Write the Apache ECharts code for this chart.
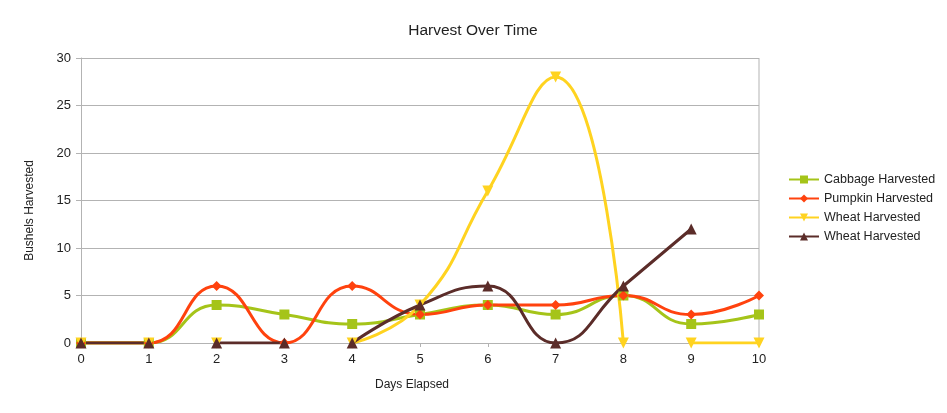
<!DOCTYPE html>
<html>
<head>
<meta charset="utf-8">
<script src="https://cdn.jsdelivr.net/npm/echarts@6/dist/echarts.min.js"></script>
<style>
  html, body { margin: 0; padding: 0; background: #fff; }
  #chart { width: 947px; height: 413px; }
</style>
</head>
<body>
<div id="chart"></div>
<script>
// days 0..10, null marks a break in the line
const cabbage = [[0, 0], [1, 0], [2, 4], [3, 3], [4, 2], [5, 3], [6, 4], [7, 3], [8, 5], [9, 2], [10, 3]];
const pumpkin = [[0, 0], [1, 0], [2, 6], [3, 0], [4, 6], [5, 3], [6, 4], [7, 4], [8, 5], [9, 3], [10, 5]];
const wheatA = [[0, 0], [1, 0], [1.5, null], [2, 0], [3, null], [4, 0], [5, 4], [6, 16], [7, 28], [8, 0], [8.5, null], [9, 0], [10, 0]];
const wheatB = [[0, 0], [1, 0], [1.5, null], [2, 0], [3, 0], [3.5, null], [4, 0], [5, 4], [6, 6], [7, 0], [8, 6], [9, 12]];

const seriesNames = ['Cabbage Harvested', 'Pumpkin Harvested', 'Wheat Harvested', 'Wheat Harvested '];
const colors = ['#a5c419', '#ff420e', '#ffd320', '#5b2c29'];

const chart = echarts.init(document.getElementById('chart'));
const font = 'Liberation Sans, Arial, sans-serif';

function mk(name, data, color, symbol, size) {
  return {
    name: name,
    type: 'line',
    data: data,
    smooth: 0.5,
    connectNulls: false,
    symbol: symbol,
    symbolSize: size,
    showAllSymbol: true,
    lineStyle: { width: 3, color: color },
    itemStyle: { color: color },
    emphasis: { disabled: true }
  };
}

const option = {
  animation: false,
  color: colors,
  title: {
    text: 'Harvest Over Time',
    left: 468, top: 18, textAlign: 'center',
    textStyle: { fontFamily: font, fontSize: 15.5, fontWeight: 'normal', color: '#222' }
  },
  legend: {
    orient: 'vertical',
    left: 783, top: 168,
    itemWidth: 30, itemHeight: 10, itemGap: 6,
    formatter: function (n) { return n.trim(); },
    textStyle: { fontFamily: font, fontSize: 12.5, color: '#222' },
    data: seriesNames
  },
  grid: { left: 81, right: 188, top: 58, bottom: 70 },
  xAxis: {
    type: 'value', min: 0, max: 10, interval: 1,
    name: 'Days Elapsed', nameLocation: 'middle', nameGap: 36,
    nameTextStyle: { fontFamily: font, fontSize: 12, color: '#222', padding: [0, 16, 0, 0] },
    axisLine: { lineStyle: { color: '#b3b3b3' } },
    axisTick: { show: true, length: 4, lineStyle: { color: '#b3b3b3' } },
    axisLabel: { fontFamily: font, fontSize: 13, color: '#222', margin: 10 },
    splitLine: { show: false }
  },
  yAxis: {
    type: 'value', min: 0, max: 30, interval: 5,
    name: 'Bushels Harvested', nameLocation: 'middle', nameGap: 45,
    nameTextStyle: { fontFamily: font, fontSize: 12, color: '#222', padding: [0, 20, 0, 0] },
    axisLine: { show: true, lineStyle: { color: '#b3b3b3' } },
    axisTick: { show: true, length: 5, lineStyle: { color: '#b3b3b3' } },
    axisLabel: { fontFamily: font, fontSize: 13, color: '#222', margin: 10 },
    splitLine: { lineStyle: { color: '#b3b3b3' } }
  },
  series: [
    mk(seriesNames[0], cabbage, colors[0], 'rect', 10),
    mk(seriesNames[1], pumpkin, colors[1], 'diamond', 10),
    mk(seriesNames[2], wheatA, colors[2], 'path://M0,0 L10,0 L5,9 Z', 11),
    mk(seriesNames[3], wheatB, colors[3], 'triangle', 11),
    {
      type: 'line', silent: true, data: [[10, 0], [10, 30]],
      symbol: 'none', lineStyle: { width: 1, color: '#b3b3b3' }
    }
  ]
};
chart.setOption(option);
</script>
</body>
</html>
